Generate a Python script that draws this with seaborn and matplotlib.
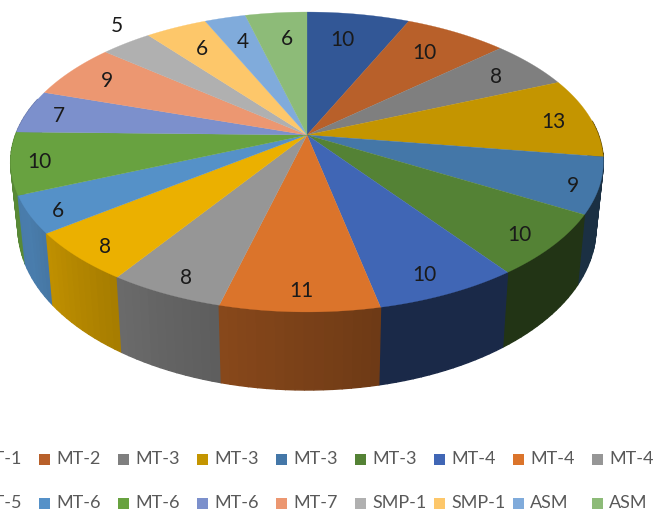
import numpy as np
import matplotlib
matplotlib.use("Agg")
import matplotlib.pyplot as plt
from matplotlib.patches import Rectangle
import seaborn as sns

categories = ["MT-1", "MT-2", "MT-3", "MT-3", "MT-3", "MT-3", "MT-4", "MT-4", "MT-4",
              "MT-5", "MT-6", "MT-6", "MT-6", "MT-7", "SMP-1", "SMP-1", "ASM", "ASM"]
values = [10, 10, 8, 13, 9, 10, 10, 11, 8, 8, 6, 10, 7, 9, 5, 6, 4, 6]
top_colors = ["#325796", "#B8602A", "#7F7F7F", "#C49500", "#4477A8", "#548235",
              "#4066B5", "#DB742B", "#969696", "#EBB000", "#5591C8", "#68A240",
              "#7C90CC", "#EC9771", "#B0B0B0", "#FDC76A", "#80ABDB", "#8DBB78"]

# layout of the data labels (hand placed "best fit" positions), in figure pixels
label_x = [342, 424, 496, 553, 573, 519, 424, 301, 186, 105, 58, 39, 59, 107, 117, 202, 243, 287]
label_y = [40, 53, 77, 122, 186, 235, 275, 291, 278, 247, 211, 162, 116, 81, 26, 49, 42, 39]

# perspective of the pie, in pixels of the figure
CX, CY, A, B, K, DEPTH, BOTTOM_X = 307, 135, 291.5, 145.1, 0.18, 64, 0.975
shade_angle = [90, 168, 168.01, 194, 216, 240, 270]
shade_value = [.40, .40, .50, .62, .72, .86, .82]

sns.set_theme(style="white")
plt.rcParams["font.family"] = ["Lato", "DejaVu Sans"]
palette = sns.color_palette(top_colors)


def project(theta_deg, r=1.0, bottom=False):
    t = np.radians(theta_deg)
    u, v = r * np.sin(t), r * np.cos(t)
    w = 1 + K * v
    if bottom:
        return CX + BOTTOM_X * A * u / w, CY - (B * v - DEPTH) / w
    return CX + A * u / w, CY - B * v / w


fig = plt.figure(figsize=(6.56, 5.13), dpi=100)
ax = fig.add_axes([0, 0, 1, 1])
ax.set_xlim(0, 656)
ax.set_ylim(513, 0)
ax.axis("off")

edges = np.concatenate([[0], np.cumsum(values)]) * 360 / sum(values)

# side wall, back to front
quads = []
for i, col in enumerate(palette):
    n = max(int((edges[i + 1] - edges[i]) / 1.5), 2)
    th = np.linspace(edges[i], edges[i + 1], n + 1)
    for a0, a1 in zip(th[:-1], th[1:]):
        quads.append((np.cos(np.radians((a0 + a1) / 2)), a0, a1, col))
quads.sort(key=lambda q: -q[0])
for _, a0, a1, col in quads:
    mid = (a0 + a1) / 2
    if not 85 < mid < 285:
        continue
    s = np.interp(mid, shade_angle, shade_value)
    c = tuple(np.array(col) * s)
    x0, y0 = project(np.array([a0, a1]))
    x1, y1 = project(np.array([a1, a0]), bottom=True)
    ax.fill(np.r_[x0, x1], np.r_[y0, y1], color=c, lw=1.0, zorder=2)

# top face
for i, col in enumerate(palette):
    th = np.linspace(edges[i], edges[i + 1], 60)
    x, y = project(th)
    ax.fill(np.r_[CX, x], np.r_[CY, y], color=col, lw=0.2, zorder=3)

# data labels
for i, val in enumerate(values):
    ax.text(label_x[i], label_y[i], str(val), ha="center", va="center", fontsize=15,
            color="#1a1a1a", zorder=4)

# legend, two rows on a regular pitch, cut off by the left edge as in the source
for i, (name, col) in enumerate(zip(categories, palette)):
    row, column = divmod(i, 9)
    x = -40 + column * 79
    y = [459, 503][row]
    ax.add_patch(Rectangle((x, y - 5.5), 11, 11, color=col, lw=0, clip_on=False))
    ax.text(x + 17, y, name, ha="left", va="center", fontsize=13, color="#595959")

fig.savefig("out.png", dpi=100)
